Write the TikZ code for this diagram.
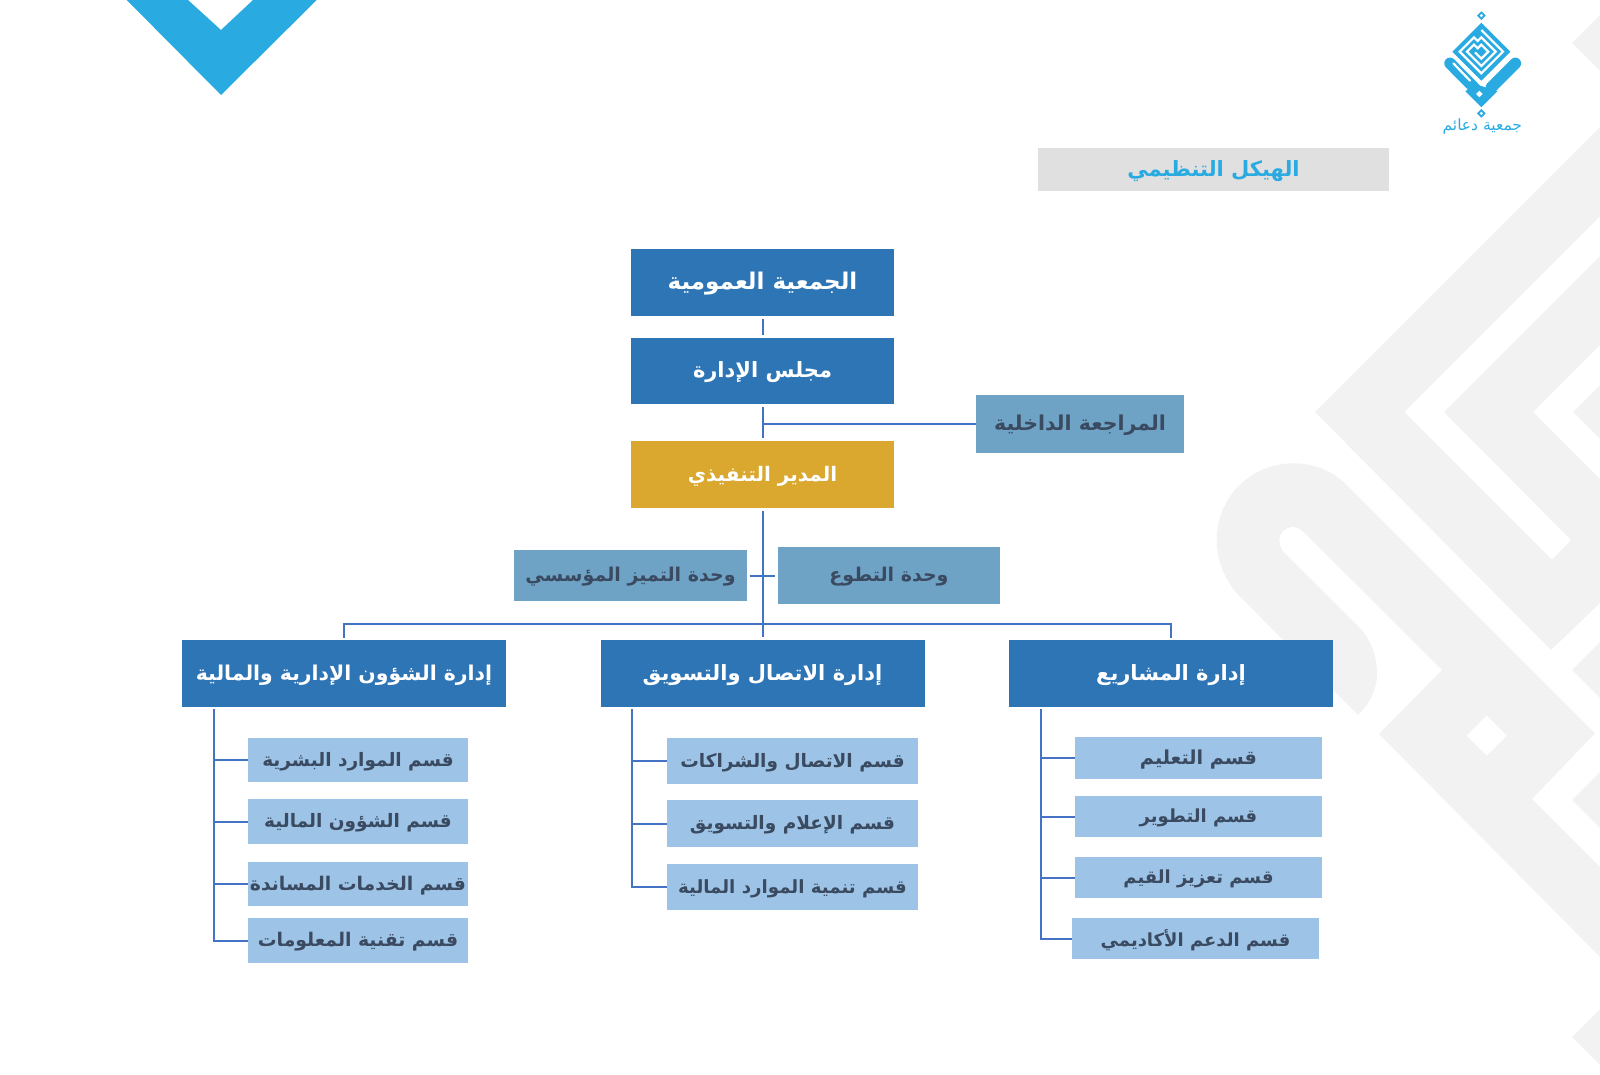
\documentclass[tikz,border=0pt]{standalone}
\usepackage{fontspec}
\usetikzlibrary{calc}
\TeXXeTstate=1
\newfontfamily\arabicfont[Script=Arabic]{DejaVu Sans}
\newcommand{\ar}[1]{\raisebox{-1.5pt}[\height][\depth]{\arabicfont\bfseries\beginR #1\endR}}
\newcommand{\fsize}[1]{\fontsize{#1}{#1}\selectfont}
\definecolor{headblue}{HTML}{2E75B6}
\definecolor{execgold}{HTML}{DAA82F}
\definecolor{unitblue}{HTML}{6FA3C6}
\definecolor{subblue}{HTML}{9DC3E6}
\definecolor{linkblue}{HTML}{4472C4}
\definecolor{darktext}{HTML}{3A4A60}
\definecolor{skyblue}{HTML}{29ABE2}
\definecolor{wmgray}{HTML}{F2F2F2}
\definecolor{titlegray}{HTML}{E0E0E0}
\tikzset{
	boxbase/.style={shape=rectangle,inner sep=0pt,align=center},
	headbox/.style={boxbase,fill=headblue,text=white,font=\fsize{21}},
	execbox/.style={boxbase,fill=execgold,text=white,font=\fsize{20}},
	unitbox/.style={boxbase,fill=unitblue,text=darktext,font=\fsize{19}},
	subbox/.style={boxbase,fill=subblue,text=darktext,font=\fsize{18.5}},
	titlebox/.style={boxbase,fill=titlegray,text=skyblue,font=\fsize{21}},
	link/.style={draw=linkblue,line width=2pt},
	gaplink/.style={link,shorten >=2.5pt,shorten <=2.5pt},
	wm/.style={fill=wmgray,draw=none}
}

\begin{document}
\begin{tikzpicture}[x=1pt,y=-1pt]
	\useasboundingbox (0,0) rectangle (1600,1074);

	% background
	\fill[wm] (1315,412) -- (1600,127) -- (1600,216) -- (1404,412) -- (1552,560) -- (1571,540) -- (1444,412) -- (1600,256) -- (1600,345) -- (1533,412) -- (1600,479) -- (1600,603) -- (1551,650) -- cycle;
	\fill[wm] (1573,412) -- (1600,385) -- (1600,439) -- cycle;
	\fill[wm] (1572,43) -- (1600,15) -- (1600,71) -- cycle;
	\fill[wm] (1572,670) -- (1600,642) -- (1600,698) -- cycle;
	\fill[wm] (1572,800) -- (1600,772) -- (1600,828) -- cycle;
	\fill[wm] (1572,1037) -- (1600,1009) -- (1600,1065) -- cycle;
	\fill[wm] (1343.3,481.7) -- (1595,733.3) -- (1532,799) -- (1600,867) -- (1600,957) -- (1379,734) -- (1442,670) -- (1303.3,531.7)
		.. controls (1296,525) and (1288,526) .. (1283,531) .. controls (1278,536) and (1278,544) .. (1283.3,551.7)
		-- (1358,626) .. controls (1370,638) and (1377,655) .. (1377,673) .. controls (1377,690) and (1370,703) .. (1358,715)
		-- (1240,596.7) .. controls (1226,582) and (1216.7,562) .. (1216.7,540) .. controls (1216.7,497) and (1251,463.3) .. (1293.3,463.3)
		.. controls (1313,463.3) and (1330,470) .. (1343.3,481.7) -- cycle;
	\fill[white] (1486.7,715.7) -- (1506.7,735.7) -- (1486.7,755.7) -- (1466.7,735.7) -- cycle;
	\fill[skyblue] (126.7,0) -- (221,95) -- (316.7,0) -- (253,0) -- (221,30) -- (188,0) -- cycle;

	% logo
	\begin{scope}[shift={(1420,0)},x=0.3333pt,y=-0.3333pt]
		\fill[skyblue] (184,68) -- (271,155) -- (184,242) -- (97,155) -- cycle;
		\draw[white,line width=2.2pt] (184,90) -- (249,155) -- (184,220) -- (119,155) -- (162,112) -- (173,123) -- (184,112) -- (227,155) -- (184,198) -- (141,155) -- (162,134) -- (173,145) -- (184,134) -- (205,155) -- (184,176) -- (165,157);
		\draw[skyblue,line width=11.5pt,line cap=round] (90,190) -- (165,266);
		\draw[skyblue,line width=11.5pt,line cap=round] (286,190) -- (214,262);
		\draw[white,line width=2.2pt,line cap=round] (100,190) -- (150,242);
		\fill[skyblue] (184,322) -- (136,274) -- (164,252) -- (184,258) -- (232,274) -- cycle;
		\fill[white] (178,272) -- (188,282) -- (178,292) -- (168,282) -- cycle;
		\fill[skyblue] (184,34) -- (197,47) -- (184,60) -- (171,47) -- cycle;
		\fill[white] (184,42) -- (189,47) -- (184,52) -- (179,47) -- cycle;
		\fill[skyblue] (184,327) -- (197,340) -- (184,353) -- (171,340) -- cycle;
		\fill[white] (184,335) -- (189,340) -- (184,345) -- (179,340) -- cycle;
		\draw (187,380) node (logotext) [inner sep=0pt,text=skyblue,font=\fsize{15.5}] {{\arabicfont\beginR جمعية دعائم\endR}};
	\end{scope}

	\draw (1213.5,169.5) node (title) [titlebox,minimum width=351pt,minimum height=43pt] {\ar{الهيكل التنظيمي}};

	\draw (762.5,282.5) node (assembly) [headbox,minimum width=263pt,minimum height=67pt,font=\fsize{23}] {\ar{الجمعية العمومية}};
	\draw (762.5,371) node (board) [headbox,minimum width=263pt,minimum height=66pt] {\ar{مجلس الإدارة}};
	\draw (762.5,474.5) node (exec) [execbox,minimum width=263pt,minimum height=67pt] {\ar{المدير التنفيذي}};
	\draw (1080,424) node (audit) [unitbox,minimum width=208pt,minimum height=58pt,font=\fsize{20.5}] {\ar{المراجعة الداخلية}};
	\draw (630.5,575.5) node (quality) [unitbox,minimum width=233pt,minimum height=51pt] {\ar{وحدة التميز المؤسسي}};
	\draw (889,575.5) node (volunteer) [unitbox,minimum width=222pt,minimum height=57pt] {\ar{وحدة التطوع}};

	\draw (344,673.5) node (admin) [headbox,minimum width=324pt,minimum height=67pt,font=\fsize{20.4}] {\ar{إدارة الشؤون الإدارية والمالية}};
	\draw (762.5,673.5) node (media) [headbox,minimum width=324pt,minimum height=67pt] {\ar{إدارة الاتصال والتسويق}};
	\draw (1171,673.5) node (projects) [headbox,minimum width=324pt,minimum height=67pt] {\ar{إدارة المشاريع}};

	\draw (358,760) node (hr) [subbox,minimum width=220pt,minimum height=44pt] {\ar{قسم الموارد البشرية}};
	\draw (358,821.5) node (finance) [subbox,minimum width=220pt,minimum height=45pt] {\ar{قسم الشؤون المالية}};
	\draw (358,884) node (support) [subbox,minimum width=220pt,minimum height=44pt,font=\fsize{18.8}] {\ar{قسم الخدمات المساندة}};
	\draw (358,940.5) node (tech) [subbox,minimum width=220pt,minimum height=45pt,font=\fsize{18.8}] {\ar{قسم تقنية المعلومات}};

	\draw (792.5,761) node (partners) [subbox,minimum width=251pt,minimum height=46pt] {\ar{قسم الاتصال والشراكات}};
	\draw (792.5,823.5) node (press) [subbox,minimum width=251pt,minimum height=47pt] {\ar{قسم الإعلام والتسويق}};
	\draw (792.5,887) node (funds) [subbox,minimum width=251pt,minimum height=46pt,font=\fsize{18.2}] {\ar{قسم تنمية الموارد المالية}};

	\draw (1198.5,758) node (teaching) [subbox,minimum width=247pt,minimum height=42pt,font=\fsize{19.2}] {\ar{قسم التعليم}};
	\draw (1198.5,816.5) node (develop) [subbox,minimum width=247pt,minimum height=41pt,font=\fsize{18}] {\ar{قسم التطوير}};
	\draw (1198.5,877.5) node (values) [subbox,minimum width=247pt,minimum height=41pt,font=\fsize{18}] {\ar{قسم تعزيز القيم}};
	\draw (1195.5,938.5) node (academic) [subbox,minimum width=247pt,minimum height=41pt,font=\fsize{18}] {\ar{قسم الدعم الأكاديمي}};

	\coordinate (auditjoint) at (764,424);
	\coordinate (busjoint) at (762.5,624);
	\coordinate (trunkleft) at (214,709);
	\coordinate (trunkmid) at (632,709);
	\coordinate (trunkright) at (1041,709);

	\draw[gaplink] (assembly) -- (board);
	\draw[gaplink] (board) -- (exec);
	\draw[link] (audit) -- (auditjoint);
	\draw[gaplink] (exec) -- (media);
	\draw[gaplink] (quality) -- (volunteer);
	\draw[link,shorten <=2pt,shorten >=2pt] (admin.north) -- (admin.north |- busjoint) -- (projects.north |- busjoint) -- (projects.north);

	\draw[link] (trunkleft) |- (hr.west);
	\draw[link] (trunkleft) |- (finance.west);
	\draw[link] (trunkleft) |- (support.west);
	\draw[link] (trunkleft) |- (tech.west);

	\draw[link] (trunkmid) |- (partners.west);
	\draw[link] (trunkmid) |- (press.west);
	\draw[link] (trunkmid) |- (funds.west);

	\draw[link] (trunkright) |- (teaching.west);
	\draw[link] (trunkright) |- (develop.west);
	\draw[link] (trunkright) |- (values.west);
	\draw[link] (trunkright) |- (academic.west);
\end{tikzpicture}
\end{document}
